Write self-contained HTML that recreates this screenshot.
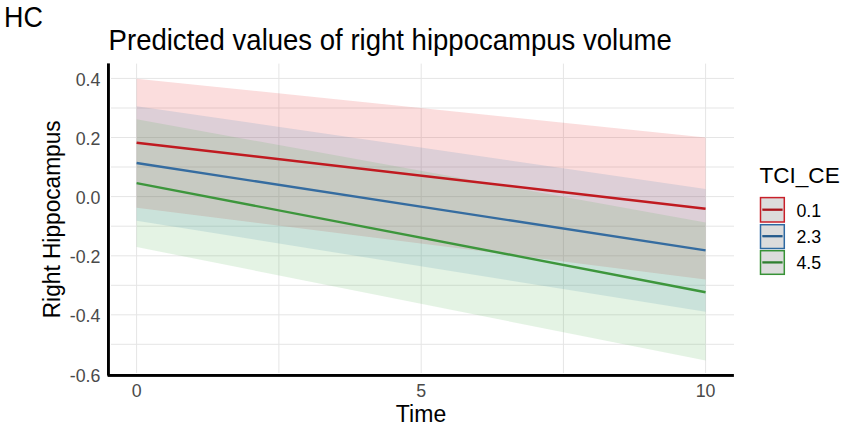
<!DOCTYPE html>
<html><head><meta charset="utf-8">
<style>
html,body{margin:0;padding:0;background:#fff;}
body{width:847px;height:428px;overflow:hidden;}
svg{display:block;}
text{font-family:"Liberation Sans",sans-serif;}
</style></head>
<body>
<svg width="847" height="428" viewBox="0 0 847 428">
<rect x="0" y="0" width="847" height="428" fill="#fff"/>
<!-- grid -->
<g stroke="#e5e5e5" stroke-width="1" fill="none">
<line x1="111" y1="78.4" x2="734" y2="78.4"/>
<line x1="111" y1="108" x2="734" y2="108"/>
<line x1="111" y1="137.5" x2="734" y2="137.5"/>
<line x1="111" y1="167" x2="734" y2="167"/>
<line x1="111" y1="196.6" x2="734" y2="196.6"/>
<line x1="111" y1="226.2" x2="734" y2="226.2"/>
<line x1="111" y1="255.8" x2="734" y2="255.8"/>
<line x1="111" y1="285.3" x2="734" y2="285.3"/>
<line x1="111" y1="314.8" x2="734" y2="314.8"/>
<line x1="111" y1="344.3" x2="734" y2="344.3"/>
<line x1="136.6" y1="63.6" x2="136.6" y2="373"/>
<line x1="278.9" y1="63.6" x2="278.9" y2="373"/>
<line x1="421.2" y1="63.6" x2="421.2" y2="373"/>
<line x1="563.4" y1="63.6" x2="563.4" y2="373"/>
<line x1="705.6" y1="63.6" x2="705.6" y2="373"/>
</g>
<!-- ribbons -->
<polygon points="136.6,78.7 705.6,137.5 705.6,279.4 136.6,207.8" fill="#E41A1C" fill-opacity="0.15"/>
<polygon points="136.6,106.2 705.6,189 705.6,311.7 136.6,220.8" fill="#377EB8" fill-opacity="0.15"/>
<polygon points="136.6,119.3 705.6,222.5 705.6,360.6 136.6,247" fill="#4DAF4A" fill-opacity="0.15"/>
<!-- lines -->
<g stroke-width="2.4" fill="none">
<line x1="136.6" y1="142.7" x2="705.6" y2="208.7" stroke="#C01A20"/>
<line x1="136.6" y1="163" x2="705.6" y2="250.4" stroke="#356CA0"/>
<line x1="136.6" y1="183.1" x2="705.6" y2="292.2" stroke="#3D963C"/>
</g>
<!-- axes -->
<rect x="107" y="63.4" width="2.9" height="312.2" fill="#000"/>
<rect x="107.6" y="374" width="626.3" height="2.9" fill="#000"/>
<!-- y tick labels -->
<g font-size="17.8" fill="#4a4a4a" text-anchor="end" transform="translate(-0.6,0.8)">
<text x="101" y="84.8">0.4</text>
<text x="101" y="144">0.2</text>
<text x="101" y="203.2">0.0</text>
<text x="101" y="262.4">-0.2</text>
<text x="101" y="321.6">-0.4</text>
<text x="101" y="380.8">-0.6</text>
</g>
<!-- x tick labels -->
<g font-size="17.8" fill="#4a4a4a" text-anchor="middle">
<text x="136.6" y="396.6">0</text>
<text x="421.2" y="396.6">5</text>
<text x="705.6" y="396.6">10</text>
</g>
<!-- axis titles -->
<text transform="translate(421.1,421.6)" font-size="23" letter-spacing="0.1" fill="#000" text-anchor="middle">Time</text>
<text transform="translate(59.9,219.3) rotate(-90) scale(1,1.025)" font-size="22.7" fill="#000" text-anchor="middle">Right Hippocampus</text>
<!-- titles -->
<text transform="translate(4.1,26.7) scale(1,1.068)" font-size="26.9" fill="#000">HC</text>
<text transform="translate(108.6,50.0) scale(1,1.055)" font-size="27.55" fill="#000">Predicted values of right hippocampus volume</text>
<!-- legend -->
<text transform="translate(759.4,182.7)" font-size="22.6" fill="#000">TCI_CE</text>
<g stroke-width="1.5">
<rect x="760.5" y="197.6" width="23.8" height="24.4" fill="#dcdcdc" stroke="#C8202A"/>
<rect x="760.5" y="224.7" width="23.8" height="23.8" fill="#dcdcdc" stroke="#2E69A2"/>
<rect x="760.5" y="250.7" width="23.8" height="23.6" fill="#dcdcdc" stroke="#379236"/>
</g>
<g stroke-width="2.3">
<line x1="762.3" y1="209.7" x2="782.6" y2="209.7" stroke="#A8141A"/>
<line x1="762.3" y1="236.2" x2="782.6" y2="236.2" stroke="#245A8C"/>
<line x1="762.3" y1="262.4" x2="782.6" y2="262.4" stroke="#2F8030"/>
</g>
<g font-size="17.8" fill="#000">
<text x="796.4" y="216.8">0.1</text>
<text x="796.4" y="243.2">2.3</text>
<text x="796.4" y="269.4">4.5</text>
</g>
</svg>
</body></html>
